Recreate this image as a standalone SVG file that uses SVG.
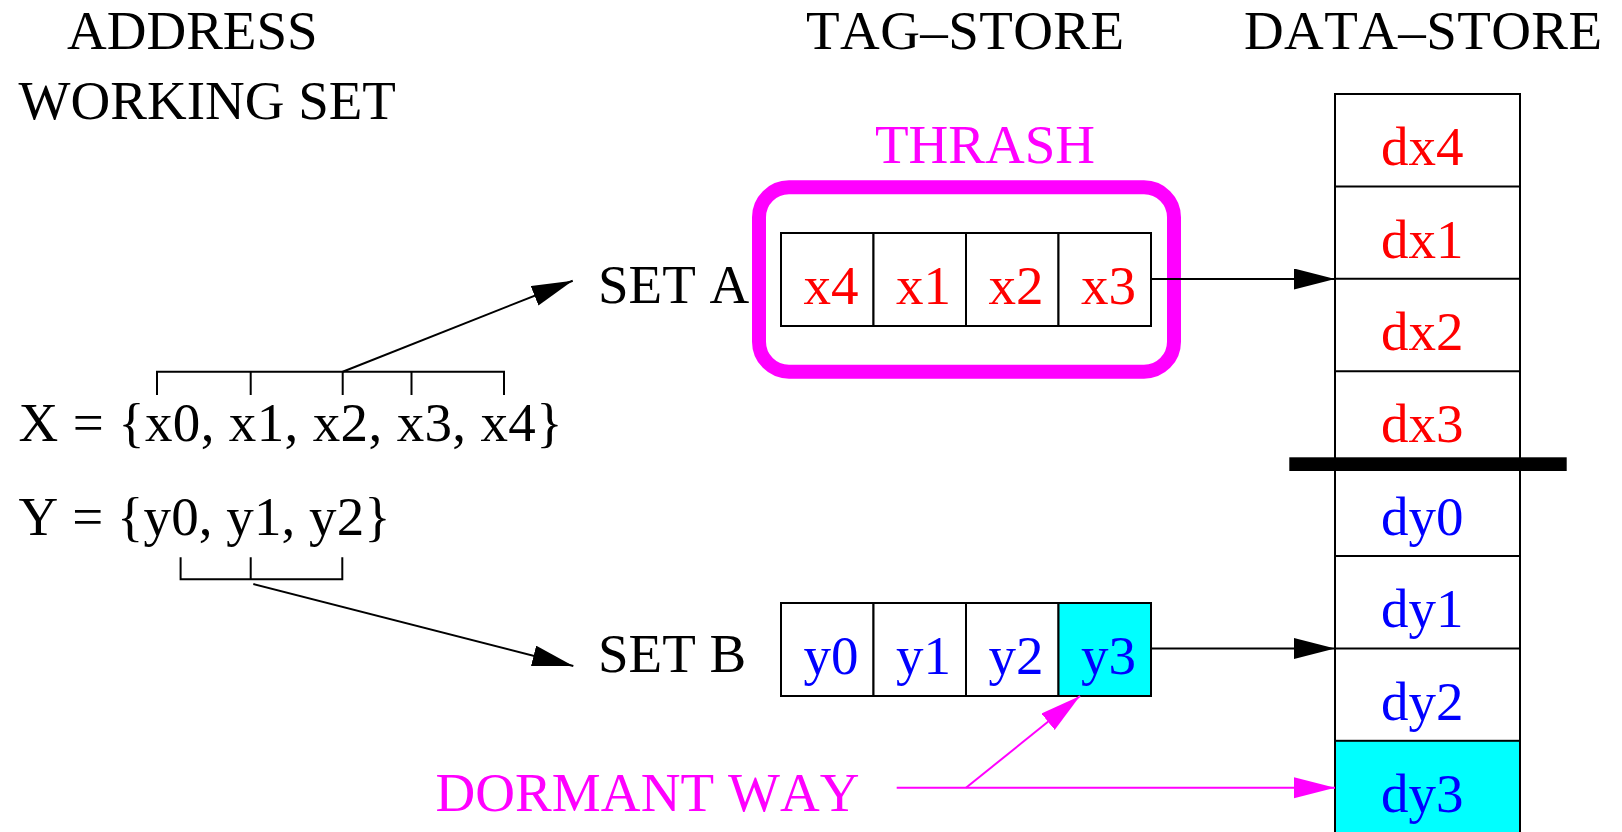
<svg xmlns="http://www.w3.org/2000/svg" width="1622" height="832" viewBox="0 0 1622 832">
<style>
text{font-family:"Liberation Serif","Times New Roman",serif;font-size:55px;font-kerning:none;font-feature-settings:"kern" 0;}
.k{fill:#000}
.r{fill:#ff0000}
.b{fill:#0000ff}
.m{fill:#ff00ff}
.cell{fill:#fff;stroke:#000;stroke-width:2}
.cy{fill:#00ffff;stroke:#000;stroke-width:2}
.ln{fill:none;stroke:#000;stroke-width:2}
.ml{fill:none;stroke:#ff00ff;stroke-width:2}
</style>
<defs>
<marker id="ak" markerUnits="userSpaceOnUse" markerWidth="42" markerHeight="22" refX="41" refY="10.5" orient="auto" viewBox="0 0 42 22">
<path d="M0,0 L41,10.5 L0,21 z" fill="#000"/>
</marker>
<marker id="am" markerUnits="userSpaceOnUse" markerWidth="42" markerHeight="22" refX="41" refY="10.5" orient="auto" viewBox="0 0 42 22">
<path d="M0,0 L41,10.5 L0,21 z" fill="#ff00ff"/>
</marker>
</defs>
<rect x="0" y="0" width="1622" height="832" fill="#fff"/>

<g id="headers">
<text class="k" x="67" y="49">ADDRESS</text>
<text class="k" x="18.6" y="119">WORKING SET</text>
<text class="k" x="806" y="49" textLength="318" lengthAdjust="spacing">TAG–STORE</text>
<text class="k" x="1244" y="49" textLength="358" lengthAdjust="spacing">DATA–STORE</text>
</g>

<g id="working-set">
<text class="k" x="18.6" y="441" textLength="544" lengthAdjust="spacing">X = {x0, x1, x2, x3, x4}</text>
<text class="k" x="18.6" y="534.5" textLength="372" lengthAdjust="spacing">Y = {y0, y1, y2}</text>
<path class="ln" d="M157,395 V371.7 H504 V395 M250.7,371.7 V395 M342.7,371.7 V395 M411.5,371.7 V395"/>
<path class="ln" d="M180.6,557.3 V579.3 H342.3 V557.3 M250.7,557.3 V579.3"/>
</g>

<g id="thrash">
<text class="m" x="875" y="163.3">THRASH</text>
<rect x="759" y="187.3" width="415" height="184.4" rx="30" ry="30" fill="none" stroke="#ff00ff" stroke-width="14"/>
</g>

<g id="set-a">
<text class="k" x="598" y="303">SET A</text>
<rect class="cell" x="781" y="233" width="92.5" height="93"/>
<rect class="cell" x="873.5" y="233" width="92.5" height="93"/>
<rect class="cell" x="966" y="233" width="92.5" height="93"/>
<rect class="cell" x="1058.5" y="233" width="92.5" height="93"/>
<text class="r" x="803.5" y="303.5">x4</text>
<text class="r" x="896" y="303.5">x1</text>
<text class="r" x="988.5" y="303.5">x2</text>
<text class="r" x="1081" y="303.5">x3</text>
</g>

<g id="set-b">
<text class="k" x="598" y="672">SET B</text>
<rect class="cell" x="781" y="603" width="92.5" height="93"/>
<rect class="cell" x="873.5" y="603" width="92.5" height="93"/>
<rect class="cell" x="966" y="603" width="92.5" height="93"/>
<rect class="cy" x="1058.5" y="603" width="92.5" height="93"/>
<text class="b" x="803.5" y="674">y0</text>
<text class="b" x="896" y="674">y1</text>
<text class="b" x="988.5" y="674">y2</text>
<text class="b" x="1081" y="674">y3</text>
</g>

<g id="data-store">
<rect class="cell" x="1335" y="94" width="185" height="740"/>
<rect class="cy" x="1335" y="740.8" width="185" height="93"/>
<path class="ln" d="M1335,186.4 H1520 M1335,278.8 H1520 M1335,371.2 H1520 M1335,556 H1520 M1335,648.4 H1520"/>
<rect x="1289.3" y="457.3" width="277.4" height="13.7" fill="#000"/>
<text class="r" x="1381" y="165">dx4</text>
<text class="r" x="1381" y="257.5">dx1</text>
<text class="r" x="1381" y="350">dx2</text>
<text class="r" x="1381" y="442.3">dx3</text>
<text class="b" x="1381" y="535">dy0</text>
<text class="b" x="1381" y="627">dy1</text>
<text class="b" x="1381" y="719.5">dy2</text>
<text class="b" x="1381" y="812">dy3</text>
</g>

<g id="dormant-way">
<text class="m" x="435.5" y="810.5" textLength="424" lengthAdjust="spacing">DORMANT WAY</text>
</g>

<g id="connectors">
<line class="ln" x1="342.7" y1="371.7" x2="572.7" y2="280.7" marker-end="url(#ak)"/>
<line class="ln" x1="253.3" y1="584" x2="573.3" y2="666" marker-end="url(#ak)"/>
<line class="ln" x1="1151" y1="279" x2="1335" y2="279" marker-end="url(#ak)"/>
<line class="ln" x1="1151" y1="648.6" x2="1335" y2="648.6" marker-end="url(#ak)"/>
<line class="ml" x1="896.7" y1="787.8" x2="1335" y2="787.8" marker-end="url(#am)"/>
<line class="ml" x1="966" y1="787.8" x2="1080" y2="696" marker-end="url(#am)"/>
</g>
</svg>
